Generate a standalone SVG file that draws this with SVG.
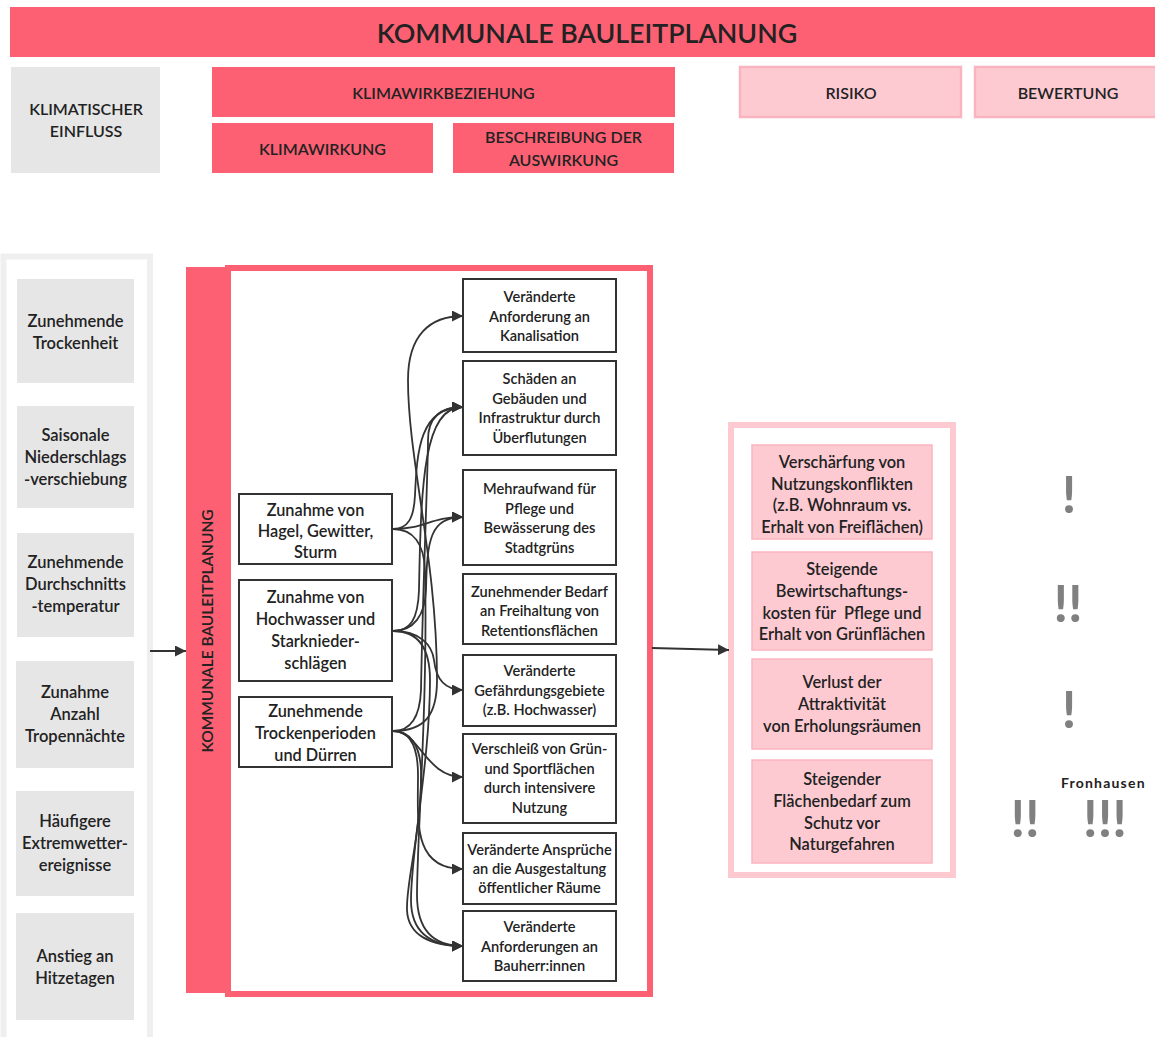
<svg xmlns="http://www.w3.org/2000/svg" width="1155" height="1037" viewBox="0 0 1155 1037">
  <style>
    text { font-family: Lato, "Noto Sans", "Liberation Sans", sans-serif; font-weight: 600; fill: #222; text-anchor: middle; }
    .red { fill: #fd6073; }
    .gray { fill: #e6e6e6; }
    .pink { fill: #fdcad2; stroke: #fab4bf; stroke-width: 1.5; }
    .pinkhead { fill: #fdcad2; stroke: #fab4bf; stroke-width: 2.5; }
    .box { fill: #fff; stroke: #333; stroke-width: 2; }
    .h16 { font-size: 16px; }
    .s16 { font-size: 16.5px; }
    .src { font-size: 16.3px; }
    .s135 { font-size: 14.6px; }
    .s155 { font-size: 16.4px; }
    .vert { font-size: 15.5px; }
    .edge { fill: none; stroke: #333; stroke-width: 1.8; marker-end: url(#arr); }
    .bang { font-family: Lato, "Liberation Sans", sans-serif; font-weight: 700; font-size: 52px; fill: #808080; }
  </style>
  <defs>
    <marker id="arr" markerUnits="userSpaceOnUse" markerWidth="11" markerHeight="11" refX="11" refY="5.5" orient="auto">
      <path d="M0,0 L11,5.5 L0,11 z" fill="#333"/>
    </marker>
  </defs>

  <rect width="1155" height="1037" fill="#fff"/>

  <!-- title bar -->
  <g id="title">
    <rect class="red" x="10" y="7" width="1145" height="50"/>
    <text x="587" y="43" style="font-size:26.8px">KOMMUNALE BAULEITPLANUNG</text>
  </g>

  <!-- column headings -->
  <g id="head-einfluss">
    <rect class="gray" x="11" y="67" width="149" height="106"/>
    <text class="h16" x="86"><tspan x="86" y="115">KLIMATISCHER</tspan><tspan x="86" y="137">EINFLUSS</tspan></text>
  </g>
  <g id="head-wirkbeziehung">
    <rect class="red" x="212" y="67" width="463" height="50"/>
    <text class="h16" x="443.5" y="99">KLIMAWIRKBEZIEHUNG</text>
  </g>
  <g id="head-wirkung">
    <rect class="red" x="212" y="123" width="221" height="50"/>
    <text class="h16" x="322.5" y="155">KLIMAWIRKUNG</text>
  </g>
  <g id="head-auswirkung">
    <rect class="red" x="453" y="123" width="221" height="50"/>
    <text class="h16"><tspan x="563.5" y="143">BESCHREIBUNG DER</tspan><tspan x="563.5" y="166">AUSWIRKUNG</tspan></text>
  </g>
  <g id="head-risiko">
    <rect class="pinkhead" x="740" y="67" width="221" height="50"/>
    <text class="h16" x="851" y="99">RISIKO</text>
  </g>
  <g id="head-bewertung">
    <rect class="pinkhead" x="975" y="67" width="185" height="50"/>
    <text class="h16" x="1068" y="99">BEWERTUNG</text>
  </g>

  <!-- climatic influences -->
  <g id="einfluss-column">
    <rect x="3.5" y="256.5" width="146.5" height="800" fill="#fff" stroke="#efefef" stroke-width="6"/>
  </g>
  <g id="ein-trockenheit">
    <rect class="gray" x="17" y="279" width="117" height="104"/>
    <text class="s16"><tspan x="75.5" y="327">Zunehmende</tspan><tspan x="75.5" y="349">Trockenheit</tspan></text>
  </g>
  <g id="ein-niederschlag">
    <rect class="gray" x="17" y="406" width="117" height="102"/>
    <text class="s16"><tspan x="75.5" y="441">Saisonale</tspan><tspan x="75.5" y="463">Niederschlags</tspan><tspan x="75.5" y="485">-verschiebung</tspan></text>
  </g>
  <g id="ein-temperatur">
    <rect class="gray" x="17" y="533" width="117" height="104"/>
    <text class="s16"><tspan x="75.5" y="568">Zunehmende</tspan><tspan x="75.5" y="590">Durchschnitts</tspan><tspan x="75.5" y="612">-temperatur</tspan></text>
  </g>
  <g id="ein-tropennaechte">
    <rect class="gray" x="16" y="661" width="118" height="107"/>
    <text class="s16"><tspan x="75" y="698">Zunahme</tspan><tspan x="75" y="720">Anzahl</tspan><tspan x="75" y="742">Tropennächte</tspan></text>
  </g>
  <g id="ein-extremwetter">
    <rect class="gray" x="16" y="791" width="118" height="105"/>
    <text class="s16"><tspan x="75" y="827">Häufigere</tspan><tspan x="75" y="849">Extremwetter-</tspan><tspan x="75" y="871">ereignisse</tspan></text>
  </g>
  <g id="ein-hitzetage">
    <rect class="gray" x="16" y="913" width="118" height="107"/>
    <text class="s16"><tspan x="75" y="962">Anstieg an</tspan><tspan x="75" y="984">Hitzetagen</tspan></text>
  </g>

  <!-- planning frame -->
  <g id="planung-frame">
    <rect x="228" y="268" width="422" height="726" fill="#fff" stroke="#fd6073" stroke-width="6"/>
    <rect class="red" x="186" y="267" width="43" height="726"/>
    <text class="vert" transform="translate(213,631) rotate(-90)">KOMMUNALE BAULEITPLANUNG</text>
  </g>

  <!-- climate effects -->
  <g id="wirk-hagel">
    <rect class="box" x="239" y="494" width="153" height="70"/>
    <text class="src"><tspan x="315.5" y="516">Zunahme von</tspan><tspan x="315.5" y="537">Hagel, Gewitter,</tspan><tspan x="315.5" y="558">Sturm</tspan></text>
  </g>
  <g id="wirk-hochwasser">
    <rect class="box" x="239" y="580" width="153" height="101"/>
    <text class="src"><tspan x="315.5" y="603">Zunahme von</tspan><tspan x="315.5" y="625">Hochwasser und</tspan><tspan x="315.5" y="647">Starknieder-</tspan><tspan x="315.5" y="669">schlägen</tspan></text>
  </g>
  <g id="wirk-trocken">
    <rect class="box" x="239" y="697" width="153" height="70"/>
    <text class="src"><tspan x="315.5" y="717">Zunehmende</tspan><tspan x="315.5" y="739">Trockenperioden</tspan><tspan x="315.5" y="761">und Dürren</tspan></text>
  </g>

  <!-- described impacts -->
  <g id="aus-kanalisation">
    <rect class="box" x="463" y="279" width="153" height="73"/>
    <text class="s135"><tspan x="539.5" y="302">Veränderte</tspan><tspan x="539.5" y="321.5">Anforderung an</tspan><tspan x="539.5" y="341">Kanalisation</tspan></text>
  </g>
  <g id="aus-schaeden">
    <rect class="box" x="463" y="361" width="153" height="94"/>
    <text class="s135"><tspan x="539.5" y="384">Schäden an</tspan><tspan x="539.5" y="403.5">Gebäuden und</tspan><tspan x="539.5" y="423">Infrastruktur durch</tspan><tspan x="539.5" y="442.5">Überflutungen</tspan></text>
  </g>
  <g id="aus-pflege">
    <rect class="box" x="463" y="470" width="153" height="95"/>
    <text class="s135"><tspan x="539.5" y="494">Mehraufwand für</tspan><tspan x="539.5" y="513.5">Pflege und</tspan><tspan x="539.5" y="533">Bewässerung des</tspan><tspan x="539.5" y="552.5">Stadtgrüns</tspan></text>
  </g>
  <g id="aus-retention">
    <rect class="box" x="463" y="574" width="153" height="70"/>
    <text class="s135"><tspan x="539.5" y="597">Zunehmender Bedarf</tspan><tspan x="539.5" y="616">an Freihaltung von</tspan><tspan x="539.5" y="635.5">Retentionsflächen</tspan></text>
  </g>
  <g id="aus-gefaehrdung">
    <rect class="box" x="463" y="655" width="153" height="71"/>
    <text class="s135"><tspan x="539.5" y="676">Veränderte</tspan><tspan x="539.5" y="696">Gefährdungsgebiete</tspan><tspan x="539.5" y="715">(z.B. Hochwasser)</tspan></text>
  </g>
  <g id="aus-verschleiss">
    <rect class="box" x="463" y="734" width="153" height="89"/>
    <text class="s135"><tspan x="539.5" y="754">Verschleiß von Grün-</tspan><tspan x="539.5" y="774">und Sportflächen</tspan><tspan x="539.5" y="793">durch intensivere</tspan><tspan x="539.5" y="813">Nutzung</tspan></text>
  </g>
  <g id="aus-raeume">
    <rect class="box" x="463" y="833" width="153" height="71"/>
    <text class="s135"><tspan x="539.5" y="855">Veränderte Ansprüche</tspan><tspan x="539.5" y="874">an die Ausgestaltung</tspan><tspan x="539.5" y="893">öffentlicher Räume</tspan></text>
  </g>
  <g id="aus-bauherr">
    <rect class="box" x="463" y="911" width="153" height="70"/>
    <text class="s135"><tspan x="539.5" y="932">Veränderte</tspan><tspan x="539.5" y="952">Anforderungen an</tspan><tspan x="539.5" y="971">Bauherr:innen</tspan></text>
  </g>

  <!-- risks -->
  <g id="risiko-frame">
    <rect x="731" y="425" width="222" height="450" fill="#fff" stroke="#fdcad2" stroke-width="6"/>
  </g>
  <g id="risk-konflikte">
    <rect class="pink" x="752" y="445" width="180" height="94"/>
    <text class="s155"><tspan x="842" y="468">Verschärfung von</tspan><tspan x="842" y="489.5">Nutzungskonflikten</tspan><tspan x="842" y="511">(z.B. Wohnraum vs.</tspan><tspan x="842" y="532.5">Erhalt von Freiflächen)</tspan></text>
  </g>
  <g id="risk-kosten">
    <rect class="pink" x="752" y="552" width="180" height="98"/>
    <text class="s155" style="white-space:pre"><tspan x="842" y="575">Steigende</tspan><tspan x="842" y="597">Bewirtschaftungs-</tspan><tspan x="842" y="618.5">kosten für  Pflege und</tspan><tspan x="842" y="640">Erhalt von Grünflächen</tspan></text>
  </g>
  <g id="risk-attraktivitaet">
    <rect class="pink" x="752" y="659" width="180" height="90"/>
    <text class="s155"><tspan x="842" y="688">Verlust der</tspan><tspan x="842" y="710">Attraktivität</tspan><tspan x="842" y="732">von Erholungsräumen</tspan></text>
  </g>
  <g id="risk-flaechenbedarf">
    <rect class="pink" x="752" y="760" width="180" height="103"/>
    <text class="s155"><tspan x="842" y="785">Steigender</tspan><tspan x="842" y="807">Flächenbedarf zum</tspan><tspan x="842" y="828.5">Schutz vor</tspan><tspan x="842" y="850">Naturgefahren</tspan></text>
  </g>

  <!-- rating marks -->
  <g id="bewertung">
    <text class="bang" x="1069" y="513">!</text>
    <text class="bang" x="1068" y="622">!!</text>
    <text class="bang" x="1069" y="728">!</text>
    <text class="bang" x="1025" y="837">!!</text>
    <text class="bang" x="1105" y="837">!!!</text>
    <text x="1061" y="788" style="text-anchor:start;font-weight:700;font-size:14px;letter-spacing:1.2px">Fronhausen</text>
  </g>

  <!-- connectors -->
  <g id="connectors">
    <path class="edge" d="M150,651 L186,651"/>
    <path class="edge" d="M652,648 L729,650"/>
    <!-- Hagel -->
    <path class="edge" d="M393,529 C408,529 414,518 415,495 C417,450 420,407 463,407"/>
    <path class="edge" d="M393,529 C425,529 430,517 463,517"/>
    <path class="edge" d="M393,529 C414,529 424,545 425,570 C428,700 417,840 417,895 C417,930 433,946 463,946"/>
    <!-- Hochwasser -->
    <path class="edge" d="M393,631 C410,631 418,620 419,590 C421,480 424,407 463,407"/>
    <path class="edge" d="M393,631 C414,631 425,615 426,590 C427,540 430,517 463,517"/>
    <path class="edge" d="M393,631 C420,631 432,645 434,660 C436,680 445,690 463,690"/>
    <path class="edge" d="M393,631 C420,631 430,650 430,680 C430,760 411,850 411,900 C411,932 430,946 463,946"/>
    <!-- Trockenperioden -->
    <path class="edge" d="M393,731 C425,731 437,715 437,680 C437,560 408,460 408,380 C408,335 430,316 463,316"/>
    <path class="edge" d="M393,731 C412,731 420,715 421,690 C423,580 428,470 428,440 C428,418 440,407 463,407"/>
    <path class="edge" d="M393,731 C420,731 425,777 463,777"/>
    <path class="edge" d="M393,731 C412,731 418,750 418,775 C418,820 412,869 463,869"/>
    <path class="edge" d="M393,731 C410,731 420,745 421,770 C422,830 406,880 407,910 C408,935 430,946 463,946"/>
  </g>
</svg>
